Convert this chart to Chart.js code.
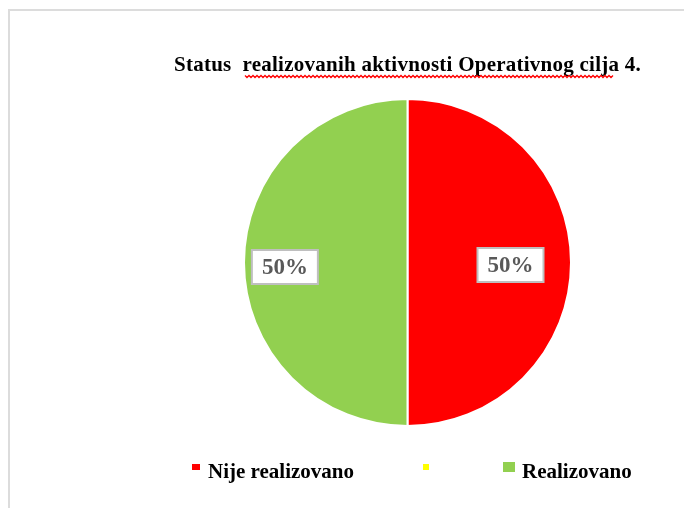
<!DOCTYPE html>
<html><head><meta charset="utf-8">
<script src="https://cdn.jsdelivr.net/npm/chart.js@4.4.1/dist/chart.umd.min.js"></script>
<style>
html,body{margin:0;padding:0;background:#fff;overflow:hidden;}
#wrap{position:relative;width:684px;height:508px;overflow:hidden;}
#frame{position:absolute;left:8px;top:9px;width:720px;height:540px;border-top:2px solid #dcdcdc;border-left:2px solid #dcdcdc;}
canvas{position:absolute;left:0;top:0;}
</style></head><body>
<div id="wrap"><div id="frame"></div><canvas id="c" width="684" height="508"></canvas></div>
<script>
const categories = ['Nije realizovano', '', 'Realizovano'];
const values = [50, 0, 50];
const percentLabels = ['50%', '', '50%'];
const colors = ['#FF0000', '#FFFF00', '#92D050'];
const titleText = 'Status  realizovanih aktivnosti Operativnog cilja 4.';

const SERIF = '"Liberation Serif", "Times New Roman", serif';

const decorPlugin = {
  id: 'decor',
  afterDraw(chart, args, opts) {
    const ctx = chart.ctx;
    const area = chart.chartArea;
    const cx = (area.left + area.right) / 2;
    ctx.save();
    // title
    ctx.font = 'bold 21px ' + SERIF;
    ctx.letterSpacing = '0.25px';
    ctx.fillStyle = '#000';
    ctx.textAlign = 'center';
    ctx.textBaseline = 'alphabetic';
    ctx.fillText(titleText, cx, 71);
    ctx.letterSpacing = '0px';
    // spell-check squiggle
    ctx.strokeStyle = '#ff0000';
    ctx.lineWidth = 1.3;
    ctx.beginPath();
    let up = true;
    for (let x = 245; x <= 613; x += 2) {
      const y = up ? 75.5 : 77.5;
      if (x === 245) ctx.moveTo(x, y); else ctx.lineTo(x, y);
      up = !up;
    }
    ctx.stroke();

    // data labels
    const meta = chart.getDatasetMeta(0);
    ctx.font = 'bold 23px ' + SERIF;
    ctx.textBaseline = 'middle';
    meta.data.forEach((arc, i) => {
      if (!percentLabels[i]) return;
      const p = arc.getProps(['x', 'y', 'startAngle', 'endAngle', 'outerRadius'], true);
      const mid = (p.startAngle + p.endAngle) / 2;
      const f = opts.radial[i];
      const lx = p.x + Math.cos(mid) * p.outerRadius * f;
      const ly = p.y + Math.sin(mid) * p.outerRadius * f + opts.dy[i];
      const w = 66, h = 34;
      ctx.fillStyle = '#ffffff';
      ctx.fillRect(lx - w / 2, ly - h / 2, w, h);
      ctx.strokeStyle = '#bfbfbf';
      ctx.lineWidth = 2;
      ctx.strokeRect(lx - w / 2, ly - h / 2, w, h);
      ctx.fillStyle = '#595959';
      ctx.textAlign = 'center';
      ctx.fillText(percentLabels[i], lx, ly + 1);
    });

    // legend
    ctx.textAlign = 'left';
    ctx.textBaseline = 'alphabetic';
    ctx.font = 'bold 21px ' + SERIF;
    opts.legend.forEach((it, i) => {
      ctx.fillStyle = colors[i];
      ctx.fillRect(it.bx, it.by, it.bw, it.bh);
      if (categories[i]) {
        ctx.fillStyle = '#000';
        ctx.fillText(categories[i], it.tx, 477.5);
      }
    });
    ctx.restore();
  }
};

new Chart(document.getElementById('c'), {
  type: 'pie',
  data: {
    labels: categories,
    datasets: [{
      data: values,
      backgroundColor: colors,
      borderColor: '#ffffff',
      borderWidth: 2
    }]
  },
  options: {
    responsive: false,
    animation: false,
    radius: 163.5,
    layout: { padding: { left: 231, right: 100, top: 90, bottom: 73 } },
    plugins: {
      legend: { display: false },
      title: { display: false },
      tooltip: { enabled: false },
      decor: {
        radial: [0.63, 0, 0.75],
        dy: [2.5, 0, 4.5],
        legend: [
          { bx: 192, by: 464, bw: 8, bh: 6, tx: 208 },
          { bx: 423, by: 464, bw: 6, bh: 6, tx: 0 },
          { bx: 503, by: 462, bw: 12, bh: 10, tx: 522 }
        ]
      }
    }
  },
  plugins: [decorPlugin]
});
</script>
</body></html>
